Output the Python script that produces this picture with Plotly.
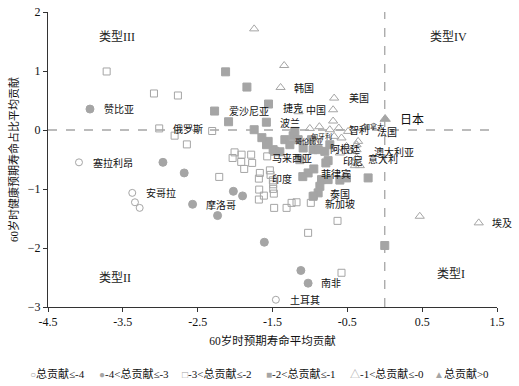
import plotly.graph_objects as go

# ---- data ----
g1_name = "总贡献≤-4"
g1_x = [-4.086, -3.374, -3.338, -3.275, -1.455]
g1_y = [-0.548, -1.066, -1.225, -1.320, -2.877]

g2_name = "-4<总贡献≤-3"
g2_x = [-3.939, -2.964, -2.680, -2.568, -2.234, -2.023, -1.900, -1.609, -1.121, -1.024]
g2_y = [0.355, -0.548, -0.728, -1.259, -1.450, -1.039, -1.117, -1.902, -2.381, -2.596]

g3_name = "-3<总贡献≤-2"
g3_x = [-3.716, -3.084, -2.764, -3.014, -2.808, -2.644, -2.306, -2.212, -2.007, -2.033,
        -1.918, -1.878, -1.785, -1.772, -1.682, -1.678, -1.682, -1.615, -1.535, -1.526,
        -1.495, -1.491, -1.491, -1.482, -1.478, -1.312, -1.245, -1.179, -0.988, -0.948,
        -0.631, -1.024, -0.578, -1.913, -1.571, -1.669]
g3_y = [0.992, 0.619, 0.585, 0.027, -0.096, -0.244, -0.017, -0.795, -0.379, -0.474,
        -0.541, -0.660, -0.418, -0.558, -0.824, -1.010, -1.179, -1.112, -0.684, -0.761,
        -0.853, -0.920, -0.998, -1.078, -1.320, -1.320, -1.235, -1.225, -1.235, -1.112,
        -1.540, -1.743, -2.420, -0.418, -0.447, -0.728]

g4_name = "-2<总贡献≤-1"
g4_x = [-2.127, -1.842, -2.274, -2.087, -1.745, -1.553, -1.582, -1.558, -1.491, -1.335,
        -1.201, -1.580, -1.468, -1.268, -1.224, -1.157, -1.090, -0.978, -0.957, -0.890,
        -0.801, -0.734, -0.757, -1.024, -1.095, -0.948, -0.787, -0.757, -0.600, -0.511,
        -0.222, -0.845, -0.867, -0.890, -0.957, 0.000, -1.402, -1.642, -1.135]
g4_y = [0.986, 0.728, 0.321, 0.140, 0.005, 0.440, 0.132, -0.193, -0.333, -0.164,
        -0.024, -0.249, -0.362, -0.249, -0.096, -0.164, -0.305, -0.164, -0.333, -0.333,
        -0.362, -0.249, -0.519, -0.728, -0.790, -0.660, -0.558, -0.841, -0.849, -0.812,
        -0.812, -0.841, -0.954, -1.066, -1.124, -1.958, -0.369, -0.130, -0.503]

g5_name = "-1<总贡献≤-0"
g5_x = [-1.745, -1.344, -1.392, -0.676, -0.690, -0.690, -1.152, -1.001, -0.874, -0.734,
        -0.614, -0.490, -0.676, -0.578, -0.511, -0.377, -0.377, -0.444, -0.600, -0.377,
        -0.364, -0.431, -0.400, -0.333, 0.468, 1.256, -0.356]
g5_y = [1.714, 1.093, 0.721, 0.541, 0.343, 0.152, 0.310, 0.027, 0.056, 0.005,
        0.034, -0.024, -0.108, -0.135, -0.277, -0.249, -0.333, -0.362, -0.389, -0.474,
        -0.570, -0.548, -0.604, -0.604, -1.462, -1.574, -0.193]

g6_name = "总贡献>0"
g6_x = [0.005]
g6_y = [0.186]

label_names = ["赞比亚", "俄罗斯", "爱沙尼亚", "塞拉利昂", "安哥拉", "摩洛哥", "韩国", "美国",
               "捷克", "中国", "波兰", "智利", "法国", "阿根廷", "澳大利亚", "马来西亚",
               "印尼", "意大利", "印度", "菲律宾", "泰国", "新加坡", "埃及", "南非", "土耳其"]
label_x = [-3.783, -2.861, -2.113, -3.930, -3.218, -2.417, -1.237, -0.511,
           -1.392, -1.077, -1.432, -0.511, -0.133, -0.757, -0.177, -1.535,
           -0.587, -0.253, -1.535, -0.877, -0.757, -0.831, 1.412, -0.877, -1.291]
label_y = [0.355, 0.017, 0.327, -0.558, -1.066, -1.264, 0.711, 0.541,
           0.372, 0.343, 0.118, 0.005, -0.041, -0.321, -0.379, -0.491,
           -0.531, -0.491, -0.824, -0.739, -1.078, -1.247, -1.574, -2.589, -2.877]

small_names = ["加拿大", "匈牙利", "哥伦比亚"]
small_x = [-0.320, -1.008, -1.232]
small_y = [0.061, -0.105, -0.190]

big_names = ["日本"]
big_x = [0.174]
big_y = [0.174]

type_names = ["类型III", "类型IV", "类型II", "类型I"]
type_x = [-3.583, 0.846, -3.605, 0.882]
type_y = [1.574, 1.574, -2.504, -2.448]

x_ticks = [-4.5, -3.5, -2.5, -1.5, -0.5, 0.5, 1.5]
y_ticks = [-3, -2, -1, 0, 1, 2]

# ---- styles ----
GRAY = "#a5a5a5"
FONT = "Liberation Serif, 'Noto Sans CJK SC'"

groups = [
    (g1_name, g1_x, g1_y, "circle-open", 7, "○"),
    (g2_name, g2_x, g2_y, "circle", 8, "●"),
    (g3_name, g3_x, g3_y, "square-open", 7, "□"),
    (g4_name, g4_x, g4_y, "square", 8, "■"),
    (g5_name, g5_x, g5_y, "triangle-up-open", 8, "△"),
    (g6_name, g6_x, g6_y, "triangle-up", 9, "▲"),
]

fig = go.Figure()
for name, xs, ys, sym, size, _ in groups:
    fig.add_trace(go.Scatter(
        x=xs, y=ys, mode="markers", name=name, showlegend=False,
        marker=dict(symbol=sym, size=size, color=GRAY, line=dict(color=GRAY, width=1)),
    ))

annotations = []
for t, x, y in zip(label_names, label_x, label_y):
    annotations.append(dict(x=x, y=y, text=t, showarrow=False, xanchor="left", yanchor="middle",
                            font=dict(family=FONT, size=10, color="#111")))
for t, x, y in zip(small_names, small_x, small_y):
    annotations.append(dict(x=x, y=y, text=t, showarrow=False, xanchor="left", yanchor="middle",
                            font=dict(family=FONT, size=7, color="#111")))
for t, x, y in zip(big_names, big_x, big_y):
    annotations.append(dict(x=x, y=y, text=t, showarrow=False, xanchor="left", yanchor="middle",
                            font=dict(family=FONT, size=12, color="#111")))
for t, x, y in zip(type_names, type_x, type_y):
    annotations.append(dict(x=x, y=y, text=t, showarrow=False, xanchor="center", yanchor="middle",
                            font=dict(family=FONT, size=12, color="#222")))

# legend row (drawn as text, one entry per group)
legend_left = [-0.0445, 0.1091, 0.294, 0.481, 0.668, 0.855]
for (name, _, _, _, _, glyph), lx in zip(groups, legend_left):
    annotations.append(dict(
        xref="paper", yref="paper", x=lx, y=-0.224, xanchor="left", yanchor="middle",
        showarrow=False,
        text=f"<span style='color:{GRAY};font-size:10px'>{glyph}</span>{name}",
        font=dict(family=FONT, size=11, color="#111"),
    ))

shapes = [
    dict(type="line", xref="paper", yref="y", x0=0, x1=1, y0=0, y1=0,
         line=dict(color=GRAY, width=1.3, dash="dash")),
    dict(type="line", xref="x", yref="paper", x0=0, x1=0, y0=0, y1=1,
         line=dict(color=GRAY, width=1.3, dash="dash")),
]

fig.update_layout(
    width=519, height=386,
    margin=dict(l=48, r=22, t=12, b=79, autoexpand=False),
    paper_bgcolor="white", plot_bgcolor="white",
    font=dict(family=FONT, size=12, color="#111"),
    annotations=annotations, shapes=shapes,
    xaxis=dict(range=[-4.5, 1.5], tickvals=x_ticks, ticktext=[str(v) for v in x_ticks],
               showgrid=False, zeroline=False, showline=True, linecolor="#333", linewidth=1,
               ticks="outside", ticklen=4, tickcolor="#333", automargin=False,
               title=dict(text="60岁时预期寿命平均贡献", font=dict(family=FONT, size=11.5), standoff=8)),
    yaxis=dict(range=[-3, 2], tickvals=y_ticks, showgrid=False, zeroline=False,
               showline=True, linecolor="#333", linewidth=1,
               ticks="outside", ticklen=4, tickcolor="#333", automargin=False,
               title=dict(text="60岁时健康预期寿命占比平均贡献", font=dict(family=FONT, size=11), standoff=6)),
)

fig.write_html("out.html", config={"displayModeBar": False},
               post_script="document.body.style.margin='0';")
